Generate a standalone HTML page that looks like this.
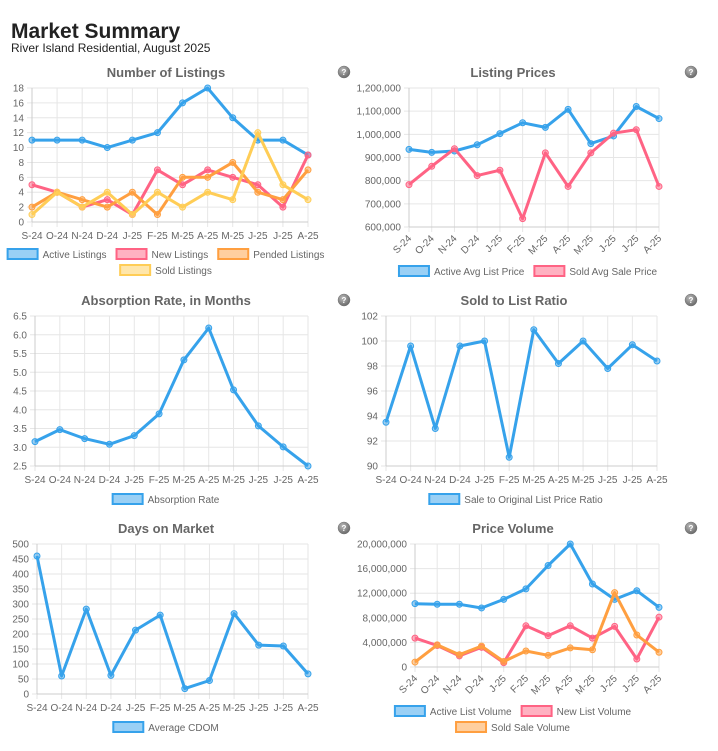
<!DOCTYPE html>
<html><head><meta charset="utf-8">
<style>
body{margin:0;background:#fff;font-family:"Liberation Sans",Arial,sans-serif;}
#wrap{position:relative;width:718px;height:751px;overflow:hidden;}
h1{position:absolute;left:11px;top:20px;margin:0;font-size:21px;font-weight:bold;color:#222;}
.sub{position:absolute;left:11px;top:41px;font-size:12px;color:#222;}
svg{position:absolute;left:0;top:0;}
</style></head><body>
<div id="wrap">
<h1>Market Summary</h1>
<div class="sub">River Island Residential, August 2025</div>
<svg id="s" width="718" height="751"></svg>
</div>
<script>
const months = ["S-24","O-24","N-24","D-24","J-25","F-25","M-25","A-25","M-25","J-25","J-25","A-25"];
const activeListings = [11,11,11,10,11,12,16,18,14,11,11,9];
const newListings = [5,4,2,3,1,7,5,7,6,5,2,9];
const pendedListings = [2,4,3,2,4,1,6,6,8,4,3,7];
const soldListings = [1,4,2,4,1,4,2,4,3,12,5,3];
const activeAvgListPrice = [935000,922000,928000,955000,1003000,1050000,1030000,1108000,960000,993000,1120000,1068000];
const soldAvgSalePrice = [783000,862000,938000,822000,845000,636000,920000,775000,920000,1005000,1020000,775000];
const absorptionRate = [3.15,3.47,3.23,3.08,3.31,3.89,5.33,6.18,4.53,3.57,3.01,2.5];
const saleToListRatio = [93.5,99.6,93.0,99.6,100.0,90.7,100.9,98.2,100.0,97.8,99.7,98.4];
const averageCdom = [460,60,283,62,213,263,18,45,268,163,160,67];
const activeListVolume = [10300000,10200000,10200000,9600000,11000000,12700000,16500000,20000000,13500000,11000000,12400000,9700000];
const newListVolume = [4700000,3500000,1800000,3200000,700000,6700000,5100000,6700000,4700000,6600000,1300000,8100000];
const soldSaleVolume = [800000,3600000,2000000,3400000,900000,2600000,1900000,3100000,2800000,12100000,5200000,2400000];
const ticks1 = [0,2,4,6,8,10,12,14,16,18];
const ticks2 = [600000,700000,800000,900000,1000000,1100000,1200000];
const ticks3 = [2.5,3.0,3.5,4.0,4.5,5.0,5.5,6.0,6.5];
const ticks4 = [90,92,94,96,98,100,102];
const ticks5 = [0,50,100,150,200,250,300,350,400,450,500];
const ticks6 = [0,4000000,8000000,12000000,16000000,20000000];

const C={blue:["#36a2eb","rgba(54,162,235,0.5)"],red:["#ff6384","rgba(255,99,132,0.5)"],orange:["#ff9f40","rgba(255,159,64,0.5)"],yellow:["#ffcd56","rgba(255,205,86,0.5)"]};
const svg=document.getElementById('s');
const NS="http://www.w3.org/2000/svg";
function mk(tag,attrs,parent,text){const e=document.createElementNS(NS,tag);for(const k in attrs)e.setAttribute(k,attrs[k]);if(text!==undefined)e.textContent=text;(parent||svg).appendChild(e);return e;}
function fmt(v,dec){if(dec)return v.toFixed(1);return v.toLocaleString('en-US');}
const defs=mk('defs',{});
const rg=mk('radialGradient',{id:'hg',cx:'40%',cy:'35%',r:'65%'},defs);
mk('stop',{offset:'0%','stop-color':'#bbb'},rg);
mk('stop',{offset:'100%','stop-color':'#6a6a6a'},rg);

function chart(o){
  const g=mk('g',{});
  
  
  const t=mk('text',{x:o.tx,y:o.ty,'text-anchor':'middle','font-size':13,'font-weight':'bold',fill:'#666'},g,o.title);
  
  
  const hc=mk('circle',{cx:o.hx,cy:o.ty-5,r:6,fill:'url(#hg)',stroke:'#777','stroke-width':0.5},g);
  
  
  mk('text',{x:o.hx,y:o.ty-2,'text-anchor':'middle','font-size':8,'font-weight':'bold',fill:'#fff'},g,'?');
  const mn=o.ticks[0],mx=o.ticks[o.ticks.length-1];
  const ys=v=>o.b-(v-mn)/(mx-mn)*(o.b-o.t);
  const xs=i=>o.l+i*(o.r-o.l)/(months.length-1);
  o.ticks.forEach(v=>{
    mk('line',{x1:o.l-5,x2:o.r,y1:ys(v),y2:ys(v),stroke:'#e6e6e6','stroke-width':1},g);
    const tl=mk('text',{x:o.l-8,y:ys(v)+3.5,'text-anchor':'end','font-size':10,fill:'#666'},g,fmt(v,o.dec));
    
    
  });
  months.forEach((m,i)=>{
    mk('line',{x1:xs(i),x2:xs(i),y1:o.t,y2:o.b+5,stroke:'#e6e6e6','stroke-width':1},g);
    let xl;
    if(o.rot){xl=mk('text',{x:xs(i)+3,y:o.b+12,'text-anchor':'end','font-size':10,fill:'#666',transform:`rotate(-45 ${xs(i)+3} ${o.b+12})`},g,m);}
    else{xl=mk('text',{x:xs(i),y:o.b+17,'text-anchor':'middle','font-size':10,fill:'#666'},g,m);}
    
    
  });
  mk('line',{x1:o.l,x2:o.l,y1:o.t,y2:o.b,stroke:'#ccc'},g);
  mk('line',{x1:o.l,x2:o.r,y1:o.b,y2:o.b,stroke:'#ccc'},g);
  o.series.forEach(s=>{
    const pts=s.data.map((v,i)=>xs(i).toFixed(1)+','+ys(v).toFixed(1)).join(' ');
    const pl=mk('polyline',{points:pts,fill:'none',stroke:C[s.c][0],'stroke-width':3,'stroke-linejoin':'round'},g);
    
    
    s.data.forEach((v,i)=>{
      const p=mk('circle',{cx:xs(i),cy:ys(v),r:3,fill:C[s.c][1],stroke:C[s.c][0],'stroke-width':1},g);
      
      
    });
  });
  o.legend.forEach((row,ri)=>{
    const items=row.map(idx=>o.series[idx]);
    const y=o.ly+ri*16;
    const groups=[],widths=[];
    items.forEach(s=>{
      const lg=mk('g',{},g);
      
      
      mk('rect',{x:0,y:y-5,width:30,height:10,fill:C[s.c][1],stroke:C[s.c][0],'stroke-width':2},lg);
      const tx=mk('text',{x:35,y:y+4,'font-size':10,fill:'#666'},lg,s.label);
      groups.push(lg);widths.push(35+tx.getComputedTextLength());
    });
    const gap=10;
    const tot=widths.reduce((a,b)=>a+b,0)+(items.length-1)*gap;
    let x=o.lc-tot/2;
    groups.forEach((lg,k)=>{lg.setAttribute('transform',`translate(${x},0)`);x+=widths[k]+gap;});
  });
}

chart({name:'number-of-listings-chart',title:'Number of Listings',tx:166,ty:77,hx:344,l:32,r:308,t:88,b:222,ticks:ticks1,rot:false,
  series:[{label:'Active Listings',c:'blue',data:activeListings},{label:'New Listings',c:'red',data:newListings},{label:'Pended Listings',c:'orange',data:pendedListings},{label:'Sold Listings',c:'yellow',data:soldListings}],
  legend:[[0,1,2],[3]],lc:166,ly:254});
chart({name:'listing-prices-chart',title:'Listing Prices',tx:513,ty:77,hx:691,l:409,r:659,t:88,b:227,ticks:ticks2,rot:true,
  series:[{label:'Active Avg List Price',c:'blue',data:activeAvgListPrice},{label:'Sold Avg Sale Price',c:'red',data:soldAvgSalePrice}],
  legend:[[0,1]],lc:528,ly:271});
chart({name:'absorption-rate-chart',title:'Absorption Rate, in Months',tx:166,ty:305,hx:344,l:35,r:308,t:316,b:466,ticks:ticks3,dec:true,rot:false,
  series:[{label:'Absorption Rate',c:'blue',data:absorptionRate}],legend:[[0]],lc:166,ly:499});
chart({name:'sold-to-list-ratio-chart',title:'Sold to List Ratio',tx:514,ty:305,hx:691,l:386,r:657,t:316,b:466,ticks:ticks4,rot:false,
  series:[{label:'Sale to Original List Price Ratio',c:'blue',data:saleToListRatio}],legend:[[0]],lc:516,ly:499});
chart({name:'days-on-market-chart',title:'Days on Market',tx:166,ty:533,hx:344,l:37,r:308,t:544,b:694,ticks:ticks5,rot:false,
  series:[{label:'Average CDOM',c:'blue',data:averageCdom}],legend:[[0]],lc:166,ly:727});
chart({name:'price-volume-chart',title:'Price Volume',tx:513,ty:533,hx:691,l:415,r:659,t:544,b:667,ticks:ticks6,rot:true,
  series:[{label:'Active List Volume',c:'blue',data:activeListVolume},{label:'New List Volume',c:'red',data:newListVolume},{label:'Sold Sale Volume',c:'orange',data:soldSaleVolume}],
  legend:[[0,1],[2]],lc:513,ly:711});
</script>
</body></html>
